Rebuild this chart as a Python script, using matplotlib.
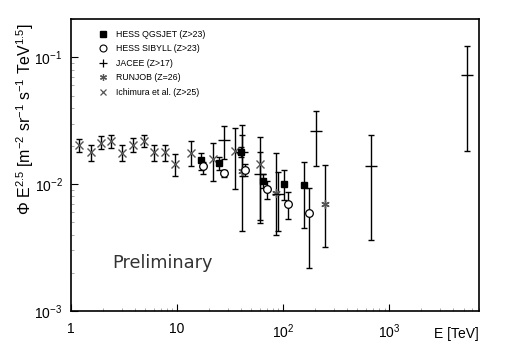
import numpy as np
import matplotlib
matplotlib.use("Agg")
import matplotlib.pyplot as plt
from matplotlib.lines import Line2D
from matplotlib.ticker import FixedLocator, FixedFormatter, LogLocator, NullFormatter

plt.rcParams['font.family'] = ['Liberation Sans', 'DejaVu Sans']
plt.rcParams['mathtext.default'] = 'regular'

# ==========================================
#  Data (E [TeV], flux, lower bound, upper bound)
# ==========================================
qgs_e = [16.7, 24.7, 40.2, 63.8, 100.7, 157.8]
qgs_f = [0.0156, 0.0148, 0.0179, 0.0106, 0.0101, 0.0098]
qgs_lo = [0.0129, 0.0129, 0.0164, 0.0093, 0.0075, 0.0045]
qgs_hi = [0.0175, 0.0163, 0.0195, 0.0120, 0.0129, 0.0150]

sib_e = [17.7, 27.8, 43.8, 69.6, 109.8, 174.7]
sib_f = [0.0139, 0.0123, 0.0129, 0.0091, 0.0070, 0.0059]
sib_lo = [0.0121, 0.0113, 0.0116, 0.0076, 0.0053, 0.0022]
sib_hi = [0.0150, 0.0129, 0.0144, 0.0106, 0.0087, 0.0094]

jacee_e = [27.9, 40.6, 61.0, 90.0, 205.0, 666.0, 5410.0]
jacee_f = [0.0225, 0.0179, 0.0120, 0.0083, 0.0261, 0.0140, 0.0722]
jacee_lo = [0.0157, 0.0043, 0.0052, 0.0043, 0.0140, 0.0036, 0.0184]
jacee_hi = [0.0290, 0.0292, 0.0180, 0.0124, 0.0380, 0.0246, 0.1236]

runjob_e = [40.8, 85.3, 245.0]
runjob_f = [0.0127, 0.0085, 0.0070]
runjob_lo = [0.0116, 0.0040, 0.0032]
runjob_hi = [0.0246, 0.0175, 0.0141]

ichi_e = [1.20, 1.53, 1.93, 2.40, 3.05, 3.87, 4.85, 6.11, 7.76, 9.64, 13.55, 21.6, 35.0, 60.7]
ichi_f = [0.0205, 0.0178, 0.0211, 0.0219, 0.0176, 0.0205, 0.0219, 0.0178, 0.0178, 0.0145, 0.0175, 0.0159, 0.0183, 0.0143]
ichi_lo = [0.0178, 0.0151, 0.0188, 0.0193, 0.0152, 0.0180, 0.0197, 0.0152, 0.0151, 0.0117, 0.0139, 0.0105, 0.0091, 0.0049]
ichi_hi = [0.0229, 0.0203, 0.0239, 0.0246, 0.0203, 0.0233, 0.0246, 0.0203, 0.0203, 0.0172, 0.0218, 0.0213, 0.0275, 0.0236]

x_ticks = [1, 10, 100, 1000]
x_labels = ["1", "10", "$10^{2}$", "$10^{3}$"]
y_ticks = [1e-3, 1e-2, 1e-1]
y_labels = ["$10^{-3}$", "$10^{-2}$", "$10^{-1}$"]

# ==========================================
#  Plot
# ==========================================
fig = plt.figure(figsize=(5.07, 3.55), dpi=100)
ax = fig.add_axes([0.140, 0.124, 0.805, 0.822])

gray = '#555555'


def draw(e, f, lo, hi, **kw):
    f = np.array(f)
    yerr = [f - np.array(lo), np.array(hi) - f]
    ax.errorbar(e, f, yerr=yerr, fmt='none', ecolor='black', elinewidth=1.0,
                capsize=2.5, capthick=1.0, zorder=3)
    ax.plot(e, f, linestyle='none', zorder=4, **kw)


draw(ichi_e, ichi_f, ichi_lo, ichi_hi, marker='x', color=gray, ms=5.5, mew=1.0)
draw(runjob_e, runjob_f, runjob_lo, runjob_hi, marker=(6, 2, 0), color=gray, ms=6, mew=1.0)
draw(jacee_e, jacee_f, jacee_lo, jacee_hi, marker='_', color='black', ms=8, mew=1.0)
draw(qgs_e, qgs_f, qgs_lo, qgs_hi, marker='s', color='black', ms=5)
draw(sib_e, sib_f, sib_lo, sib_hi, marker='o', mfc='white', mec='black', ms=5.5, mew=0.9)

ax.set_xscale('log')
ax.set_yscale('log')
ax.set_xlim(1, 7000)
ax.set_ylim(1e-3, 0.2)

ax.xaxis.set_major_locator(FixedLocator(x_ticks))
ax.xaxis.set_major_formatter(FixedFormatter(x_labels))
ax.xaxis.set_minor_locator(LogLocator(base=10, subs=np.arange(2, 10)))
ax.xaxis.set_minor_formatter(NullFormatter())
ax.yaxis.set_major_locator(FixedLocator(y_ticks))
ax.yaxis.set_major_formatter(FixedFormatter(y_labels))
ax.yaxis.set_minor_locator(LogLocator(base=10, subs=np.arange(2, 10)))
ax.yaxis.set_minor_formatter(NullFormatter())

ax.tick_params(which='both', direction='in', top=False, right=False, labelsize=10)
ax.tick_params(which='major', length=5, width=0.8)
ax.tick_params(which='minor', length=2.5, width=0.6, color='#999999')
ax.tick_params(axis='x', pad=8)
ax.tick_params(axis='y', pad=6)
for s in ax.spines.values():
    s.set_linewidth(1.2)

fig.text(0.945, 0.06, "E [TeV]", ha='right', va='center', fontsize=10)
fig.text(0.050, 0.665, "Φ E$^{2.5}$ [m$^{-2}$ sr$^{-1}$ s$^{-1}$ TeV$^{1.5}$]",
         rotation=90, ha='center', va='center', fontsize=11.5)

ax.text(0.101, 0.165, "Preliminary", transform=ax.transAxes, fontsize=12.8,
        color='#333333', family='DejaVu Sans', va='center')

handles = [
    Line2D([], [], ls='none', marker='s', color='black', ms=4.5),
    Line2D([], [], ls='none', marker='o', mfc='white', mec='black', ms=5, mew=0.8),
    Line2D([], [], ls='none', marker='+', color='black', ms=6, mew=0.9),
    Line2D([], [], ls='none', marker=(6, 2, 0), color=gray, ms=5, mew=0.9),
    Line2D([], [], ls='none', marker='x', color=gray, ms=5, mew=0.9),
]
labels = ["HESS QGSJET (Z>23)", "HESS SIBYLL (Z>23)", "JACEE (Z>17)",
          "RUNJOB (Z=26)", "Ichimura et al. (Z>25)"]
ax.legend(handles, labels, loc='upper left', bbox_to_anchor=(0.058, 0.975),
          frameon=False, fontsize=6.3, handlelength=1.0, handletextpad=1.0,
          labelspacing=0.62, borderaxespad=0)

fig.savefig("out.png", dpi=100)
